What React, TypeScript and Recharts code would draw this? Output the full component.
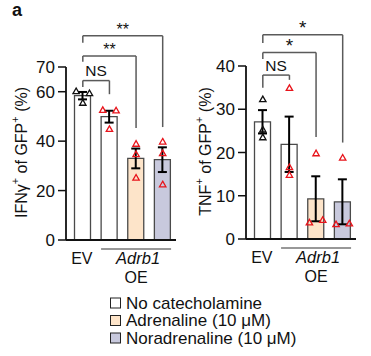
import React from "react";
import {
  Bar,
  Cell,
  ComposedChart,
  ErrorBar,
  ReferenceLine,
  Scatter,
  XAxis,
  YAxis,
} from "recharts";

// data (mean, s.e.m., individual replicates)
const groups = ["EV", "Adrb1 OE", "Adrb1 OE + adrenaline", "Adrb1 OE + noradrenaline"];
const xTickLabels = ["EV", "", "Adrb1", ""];
const groupSuffix = "OE";

const ifnMean = [58.4, 49.9, 33.0, 32.5];
const ifnSem = [1.5, 2.4, 4.0, 5.0];
const ifnReplicates = [
  [60.2, 59.4, 55.5],
  [52.6, 52.4, 44.9],
  [38.9, 34.7, 25.2],
  [39.8, 35.1, 22.5],
];

const tnfMean = [27.1, 21.9, 9.3, 8.6];
const tnfSem = [2.7, 6.4, 5.2, 5.2];
const tnfReplicates = [
  [32.3, 25.3, 23.5],
  [34.9, 16.6, 14.8],
  [19.8, 3.8, 4.4],
  [18.8, 3.4, 3.6],
];

const ifnTicks = [0, 20, 40, 60, 70];
const tnfTicks = [0, 10, 20, 30, 40];

const legendItems = ["No catecholamine", "Adrenaline (10 \u03bcM)", "Noradrenaline (10 \u03bcM)"];

// layout / style
const FONT = '"Liberation Sans", Arial, Helvetica, sans-serif';
const INK = "#111";
const RED = "#e8141b";
const BRACKET = "#5a5a5a";
const BAR_FILLS = ["#ffffff", "#ffffff", "#fde4c9", "#c8c9dd"];
const LEGEND_FILLS = ["#ffffff", "#fde4c9", "#c8c9dd"];
const JITTER_STEP = 0.25;
const ifnJitter = [[-1, 1, 0], [-1, 1, 0], [0, 0, 0], [0, 0, 0]];
const tnfJitter = [[0, 0, 0], [0, 0, 0], [0, -1, 1], [0, -1, 1]];

const ifnBrackets = [
  { from: 0, to: 1, label: "NS", y: 64.5, leftEnd: 61.9, rightEnd: 59.0 },
  { from: 0, to: 2, label: "**", y: 74.5, leftEnd: 72.1, rightEnd: 45.3 },
  { from: 0, to: 3, label: "**", y: 82.6, leftEnd: 79.8, rightEnd: 45.7 },
];
const tnfBrackets = [
  { from: 0, to: 1, label: "NS", y: 37.9, leftEnd: 35.0, rightEnd: 36.8 },
  { from: 0, to: 2, label: "*", y: 43.1, leftEnd: 41.6, rightEnd: 23.6 },
  { from: 0, to: 3, label: "*", y: 47.2, leftEnd: 45.3, rightEnd: 22.3 },
];

const ifnTitle = [
  { t: "IFN\u03b3" },
  { t: "+", sup: true },
  { t: " of GFP" },
  { t: "+", sup: true },
  { t: " (%)" },
];
const tnfTitle = [
  { t: "TNF" },
  { t: "+", sup: true },
  { t: " of GFP" },
  { t: "+", sup: true },
  { t: " (%)" },
];

function toRows(mean: number[], sem: number[]) {
  return groups.map((name, i) => ({ name, mean: mean[i], sem: sem[i] }));
}

function toPoints(reps: number[][], jitter: number[][]) {
  return reps.flatMap((vals, g) =>
    vals.map((v, j) => ({ x: g + jitter[g][j] * JITTER_STEP, y: v, g }))
  );
}

const Triangle = (props: any) => {
  const { cx, cy, payload } = props;
  if (cx == null || cy == null) return null;
  const c = payload.g === 0 ? INK : RED;
  return (
    <path
      d={`M${cx},${cy - 3.2} L${cx + 3.2},${cy + 2.4} L${cx - 3.2},${cy + 2.4} Z`}
      fill="none"
      stroke={c}
      strokeWidth={1.3}
    />
  );
};

const GroupTick = (props: any) => {
  const { x, y, index } = props;
  const label = xTickLabels[index];
  if (!label) return null;
  if (index === 0) {
    return (
      <text x={x - 1} y={y + 23.5} textAnchor="middle" fontSize={16} fill={INK} fontFamily={FONT}>
        {label}
      </text>
    );
  }
  return (
    <g>
      <line x1={x - 35} x2={x + 35} y1={y + 9} y2={y + 9} stroke="#333" strokeWidth={1.2} />
      <text x={x + 2} y={y + 24} textAnchor="middle" fontSize={16.5} fontStyle="italic" fill={INK} fontFamily={FONT}>
        {label}
      </text>
      <text x={x} y={y + 43} textAnchor="middle" fontSize={16} fill={INK} fontFamily={FONT}>
        {groupSuffix}
      </text>
    </g>
  );
};

const YTitle = (props: any) => {
  const { viewBox, parts, dx } = props;
  const cx = viewBox.x + dx;
  const cy = viewBox.y + viewBox.height / 2 - 1;
  return (
    <text
      transform={`translate(${cx},${cy}) rotate(-90)`}
      textAnchor="middle"
      dominantBaseline="central"
      fontSize={16}
      fill={INK}
      fontFamily={FONT}
    >
      {parts.map((p: any, i: number) =>
        p.sup ? (
          <tspan key={i} baselineShift="super" fontSize={11}>
            {p.t}
          </tspan>
        ) : (
          <tspan key={i}>{p.t}</tspan>
        )
      )}
    </text>
  );
};

type PanelProps = {
  left: number;
  width: number;
  top: number;
  yAxisWidth: number;
  max: number;
  ticks: number[];
  mean: number[];
  sem: number[];
  reps: number[][];
  jitter: number[][];
  brackets: typeof ifnBrackets;
  title: { t: string; sup?: boolean }[];
  starSize: number;
  titleDx: number;
};

function Panel(p: PanelProps) {
  const rows = toRows(p.mean, p.sem);
  const pts = toPoints(p.reps, p.jitter);
  const plotH = 173;
  const height = 300;
  const pad = { left: 3.5, right: 0 };
  const bracketLines = p.brackets.flatMap((b, i) => [
    <ReferenceLine
      key={`h${i}`}
      xAxisId="num"
      segment={[{ x: b.from, y: b.y }, { x: b.to, y: b.y }]}
      stroke={BRACKET}
      strokeWidth={1.5}
      ifOverflow="visible"
      label={{
        value: b.label,
        position: "top",
        offset: b.label === "NS" ? 4.5 : 0.5,
        fontSize: b.label === "NS" ? 15.5 : p.starSize,
        fill: INK,
        fontFamily: FONT,
      }}
    />,
    <ReferenceLine
      key={`l${i}`}
      xAxisId="num"
      segment={[{ x: b.from, y: b.y }, { x: b.from, y: b.leftEnd }]}
      stroke={BRACKET}
      strokeWidth={1.5}
      ifOverflow="visible"
    />,
    <ReferenceLine
      key={`r${i}`}
      xAxisId="num"
      segment={[{ x: b.to, y: b.y }, { x: b.to, y: b.rightEnd }]}
      stroke={BRACKET}
      strokeWidth={1.5}
      ifOverflow="visible"
    />,
  ]);

  return (
    <div style={{ position: "absolute", left: p.left, top: 0 }}>
      <ComposedChart
        width={p.width}
        height={height}
        data={rows}
        margin={{ top: p.top, right: 0, bottom: 0, left: 0 }}
        style={{ overflow: "visible" }}
      >
        <XAxis
          xAxisId="cat"
          dataKey="name"
          height={height - p.top - plotH}
          padding={pad}
          interval={0}
          tickSize={0}
          tickMargin={0}
          tickLine={false}
          axisLine={{ stroke: INK, strokeWidth: 1.8 }}
          tick={<GroupTick />}
        />
        <XAxis
          xAxisId="num"
          dataKey="x"
          type="number"
          domain={[-0.5, 3.5]}
          allowDataOverflow
          padding={pad}
          hide
        />
        <YAxis
          width={p.yAxisWidth}
          domain={[0, p.max]}
          ticks={p.ticks}
          interval={0}
          allowDataOverflow
          tickSize={8}
          tickMargin={3}
          tickLine={{ stroke: INK, strokeWidth: 1.5 }}
          axisLine={{ stroke: INK, strokeWidth: 1.8 }}
          tick={{ fill: INK, fontSize: 17, fontFamily: FONT }}
          label={<YTitle parts={p.title} dx={p.titleDx} />}
        />
        <Bar
          xAxisId="cat"
          dataKey="mean"
          barSize={16}
          stroke="#4a4a4a"
          strokeWidth={1.3}
          isAnimationActive={false}
        >
          {rows.map((r, i) => (
            <Cell key={r.name} fill={BAR_FILLS[i]} />
          ))}
          <ErrorBar
            dataKey="sem"
            width={4.5}
            stroke="#000"
            strokeWidth={2}
            isAnimationActive={false}
          />
        </Bar>
        <Scatter
          xAxisId="num"
          data={pts}
          dataKey="y"
          shape={Triangle}
          isAnimationActive={false}
        />
        {bracketLines}
      </ComposedChart>
    </div>
  );
}

export default function App() {
  return (
    <div
      style={{
        position: "absolute",
        left: 0,
        top: 0,
        width: 371,
        height: 356,
        background: "#fff",
        fontFamily: FONT,
        overflow: "hidden",
      }}
    >
      <svg width={371} height={356} style={{ position: "absolute", left: 0, top: 0 }}>
        <text x={12} y={16} fontSize={18} fontWeight="bold" fill={INK} fontFamily={FONT}>
          a
        </text>
        {legendItems.map((name, i) => {
          const cy = 303 + i * 17.5;
          return (
            <g key={name}>
              <rect x={110.5} y={cy - 5} width={10} height={10} fill={LEGEND_FILLS[i]} stroke="#222" strokeWidth={1} />
              <text x={126} y={cy + 5.8} fontSize={17} fill={INK} fontFamily={FONT}>
                {name}
              </text>
            </g>
          );
        })}
      </svg>
      <Panel
        left={0}
        width={176}
        top={67}
        yAxisWidth={66}
        max={70}
        ticks={ifnTicks}
        mean={ifnMean}
        sem={ifnSem}
        reps={ifnReplicates}
        jitter={ifnJitter}
        brackets={ifnBrackets}
        title={ifnTitle}
        starSize={16}
        titleDx={21}
      />
      <Panel
        left={185}
        width={171}
        top={66}
        yAxisWidth={61}
        max={40}
        ticks={tnfTicks}
        mean={tnfMean}
        sem={tnfSem}
        reps={tnfReplicates}
        jitter={tnfJitter}
        brackets={tnfBrackets}
        title={tnfTitle}
        starSize={19}
        titleDx={20}
      />
    </div>
  );
}
